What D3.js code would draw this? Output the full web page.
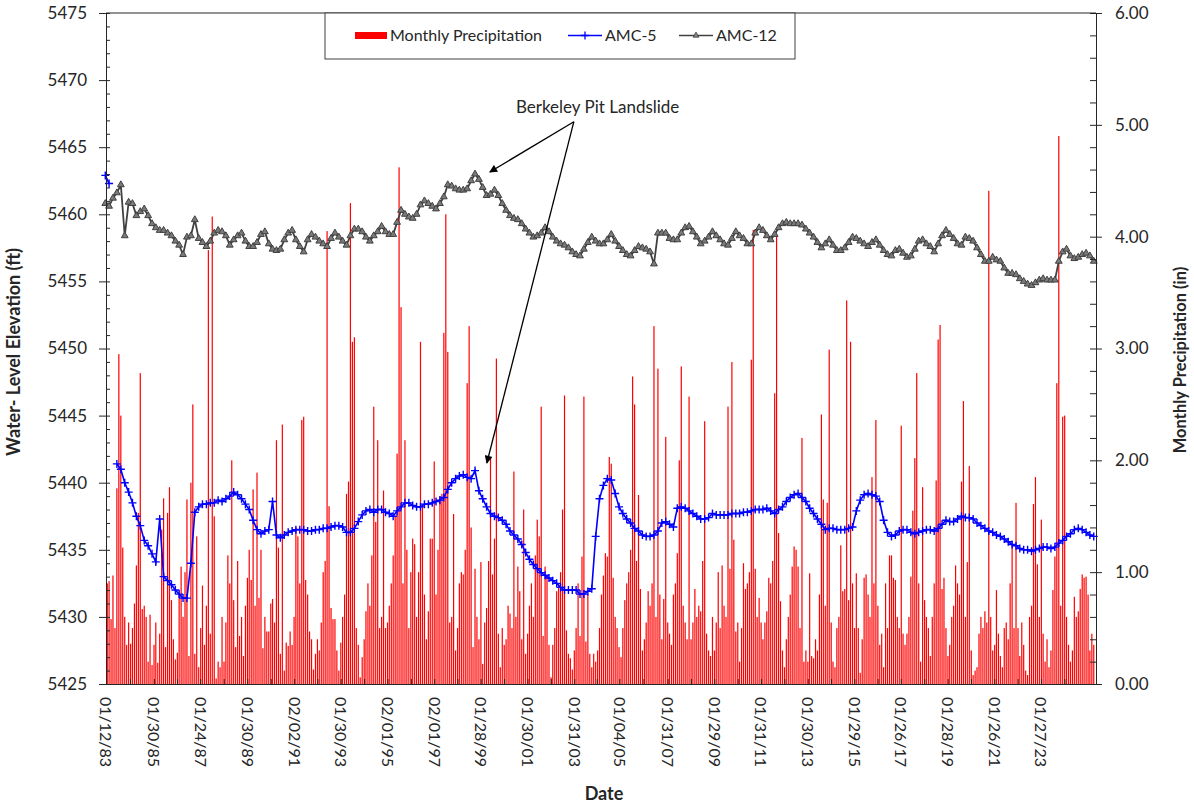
<!DOCTYPE html>
<html>
<head>
<meta charset="utf-8">
<script src="https://cdn.jsdelivr.net/npm/d3@7"></script>
<style>
  body { margin: 0; background: #fff; }
  text { font-family: Lato, "Open Sans", sans-serif; fill: #262626; }
  .axis path, .axis line { stroke: #262626; }
</style>
</head>
<body>
<div class="chart"></div>
<script>
// monthly precipitation (in), Jan 1983 onwards
var precip = [
  0.2, 0.9, 0.92, 0.58, 0.97, 0.5, 1.75, 2.95, 2.4, 1.22, 0.6, 0.35,
  0.55, 0.36, 0.5, 0.72, 1.06, 1.53, 2.78, 0.67, 0.7, 0.6, 0.2, 0.62,
  0.17, 0.35, 0.55, 0.19, 0.45, 1.38, 1.66, 0.33, 1.53, 1.76, 0.75, 0.4,
  0.22, 0.28, 0.8, 1.05, 0.6, 1.0, 1.65, 0.25, 1.8, 2.5, 0.27, 1.32,
  0.15, 0.5, 0.88, 0.35, 0.7, 3.88, 0.45, 4.18, 1.5, 0.05, 0.2, 0.15,
  0.6, 0.2, 0.55, 1.15, 0.9, 2.0, 0.75, 0.33, 1.1, 0.43, 0.6, 0.25,
  0.7, 0.95, 1.2, 0.93, 1.74, 0.7, 1.89, 0.77, 1.2, 0.32, 0.6, 0.47,
  0.47, 0.72, 0.76, 0.55, 2.18, 1.22, 0.27, 2.32, 0.12, 0.37, 0.34, 0.47,
  0.35, 0.6, 1.4, 1.32, 0.9, 2.36, 2.39, 0.93, 0.8, 0.47, 0.4, 0.13,
  0.27, 0.4, 0.3, 0.55, 1.0, 1.1, 4.05, 1.59, 0.68, 0.58, 0.58, 0.3,
  0.12, 0.37, 0.6, 0.8, 1.7, 1.81, 4.3, 3.06, 3.1, 0.5, 0.35, 0.06,
  0.24, 0.4, 0.65, 0.9, 0.7, 1.15, 2.48, 1.45, 2.18, 0.5, 0.6, 1.73,
  0.5, 0.55, 0.7, 0.9, 1.15, 1.5, 2.06, 4.62, 3.37, 0.9, 2.18, 1.2,
  0.5, 1.0, 1.3, 1.25, 0.6, 1.0, 3.06, 1.6, 0.8, 0.4, 0.65, 1.3,
  1.3, 1.99, 0.8, 1.2, 1.68, 1.7, 3.14, 4.2, 2.97, 0.55, 0.6, 1.52,
  0.3, 0.5, 0.9, 1.0, 0.98, 1.2, 2.69, 3.2, 1.4, 0.33, 1.03, 0.6,
  0.4, 1.09, 0.18, 0.55, 0.68, 1.1, 2.03, 0.98, 1.3, 2.91, 0.45, 0.15,
  0.5, 0.35, 0.4, 0.7, 0.63, 0.5, 1.9, 0.6, 1.05, 0.83, 0.4, 1.56,
  0.27, 0.45, 0.7, 0.9, 0.6, 1.15, 1.47, 1.32, 2.48, 0.43, 1.05, 0.97,
  0.35, 0.06, 0.35, 0.5, 0.83, 0.9, 1.0, 1.56, 2.58, 0.48, 0.27, 0.23,
  0.13, 0.3, 0.5, 0.9, 0.43, 1.14, 2.57, 0.38, 0.8, 0.27, 0.15, 0.27,
  0.2, 0.3, 0.5, 0.8, 0.97, 1.17, 1.14, 2.03, 1.97, 0.95, 0.6, 0.5,
  0.33, 0.24, 0.5, 0.75, 0.9, 1.0, 1.2, 2.75, 2.5, 1.1, 1.69, 0.85,
  0.3, 0.4, 0.55, 0.83, 0.7, 0.9, 3.2, 0.6, 2.82, 0.8, 0.4, 0.76,
  2.21, 0.55, 0.45, 0.35, 0.8, 0.9, 1.17, 2.0, 2.84, 0.7, 0.55, 0.4,
  2.57, 0.4, 0.55, 0.85, 0.6, 0.7, 0.65, 1.1, 2.35, 0.45, 0.3, 0.25,
  0.6, 0.3, 0.55, 1.0, 0.5, 1.06, 0.7, 0.6, 2.48, 1.03, 2.88, 1.29,
  0.47, 0.55, 0.2, 0.5, 1.08, 0.85, 0.9, 1.0, 2.9, 4.06, 1.03, 0.6,
  0.77, 0.55, 0.4, 0.55, 0.65, 0.95, 0.9, 1.1, 2.6, 4.02, 1.35, 0.74,
  0.3, 0.15, 0.4, 0.6, 0.8, 1.05, 1.23, 1.2, 1.05, 0.5, 2.2, 0.2,
  0.3, 0.2, 0.99, 0.25, 0.23, 0.4, 0.3, 0.8, 2.41, 1.65, 0.7, 1.62,
  2.99, 0.55, 0.2, 0.15, 0.5, 0.6, 1.24, 0.83, 0.85, 3.43, 0.75, 3.06,
  0.9, 0.5, 0.99, 0.5, 0.1, 0.4, 0.95, 0.98, 0.8, 0.6, 1.85, 0.9,
  2.36, 0.7, 0.35, 0.45, 0.15, 0.9, 0.5, 1.15, 1.15, 0.95, 0.93, 0.6,
  0.5, 2.31, 0.45, 0.35, 0.45, 0.6, 0.96, 1.55, 2.02, 2.78, 0.9, 0.2,
  1.76, 0.75, 0.6, 0.5, 0.25, 0.6, 0.9, 1.82, 3.08, 3.21, 0.85, 0.95,
  0.5, 0.25, 0.35, 0.6, 0.7, 1.06, 0.9, 0.8, 1.81, 2.53, 0.6, 1.09,
  1.95, 0.3, 0.08, 0.12, 0.15, 0.45, 0.6, 0.5, 0.65, 0.55, 4.41, 0.6,
  0.3, 0.35, 0.84, 0.45, 0.25, 0.15, 0.5, 0.55, 0.4, 0.9, 1.25, 0.5,
  1.62, 0.5, 0.25, 0.55, 0.35, 0.12, 0.08, 0.6, 0.7, 1.61, 1.85, 1.07,
  0.6, 1.47, 0.45, 0.2, 0.4, 0.15, 0.3, 0.84, 1.14, 2.69, 4.9, 0.7,
  2.39, 2.4, 0.6, 0.35, 0.2, 0.3, 0.78, 0.6, 0.65, 0.85, 0.98, 0.95,
  0.96, 0.8, 0.3, 0.45, 0.35
];

// water levels (ft), one reading every 2 months from Jan 1983
var amc5 = [
  5462.9, 5462.3, null, 5441.4, 5441.0, 5440.0,
  5439.3, 5438.5, 5437.5, 5436.8, 5435.7, 5435.3,
  5434.7, 5434.1, 5437.3, 5433.0, 5432.7, 5432.4,
  5432.0, 5431.7, 5431.4, 5431.4, 5434.0, 5437.8,
  5438.2, 5438.4, 5438.4, 5438.5, 5438.5, 5438.7,
  5438.6, 5438.8, 5439.0, 5439.3, 5439.1, 5438.8,
  5438.4, 5438.0, 5437.2, 5436.5, 5436.2, 5436.4,
  5436.5, 5438.6, 5436.1, 5435.9, 5436.1, 5436.3,
  5436.4, 5436.5, 5436.5, 5436.5, 5436.4, 5436.4,
  5436.5, 5436.5, 5436.6, 5436.6, 5436.7, 5436.8,
  5436.8, 5436.7, 5436.3, 5436.3, 5436.6, 5437.1,
  5437.6, 5437.9, 5438.0, 5437.8, 5438.0, 5438.0,
  5437.8, 5437.7, 5437.5, 5437.9, 5438.2, 5438.5,
  5438.5, 5438.3, 5438.2, 5438.2, 5438.4, 5438.4,
  5438.5, 5438.6, 5438.7, 5438.9, 5439.5, 5440.0,
  5440.3, 5440.5, 5440.6, 5440.4, 5440.3, 5440.9,
  5439.4, 5438.8, 5438.2, 5437.7, 5437.5, 5437.4,
  5437.2, 5436.9, 5436.4, 5436.1, 5435.8, 5435.4,
  5434.8, 5434.3, 5433.9, 5433.6, 5433.3, 5433.1,
  5432.9, 5432.7, 5432.5, 5432.2, 5432.0, 5432.0,
  5432.0, 5432.0, 5431.7, 5431.7, 5431.9, 5432.1,
  5436.0, 5438.8, 5439.8, 5440.3, 5440.2, 5439.2,
  5438.2, 5437.7, 5437.3, 5437.0, 5436.6, 5436.4,
  5436.1, 5436.0, 5436.0, 5436.1, 5436.4, 5437.0,
  5437.1, 5436.9, 5436.7, 5438.1, 5438.2, 5438.1,
  5437.9, 5437.7, 5437.5, 5437.3, 5437.3, 5437.4,
  5437.7, 5437.6, 5437.6, 5437.6, 5437.6, 5437.7,
  5437.7, 5437.7, 5437.8, 5437.8, 5437.9, 5438.0,
  5438.0, 5438.0, 5438.1, 5437.9, 5437.7, 5438.0,
  5438.2, 5438.6, 5438.9, 5439.1, 5439.2, 5438.9,
  5438.6, 5438.1, 5437.7, 5437.3, 5436.9, 5436.5,
  5436.6, 5436.6, 5436.5, 5436.5, 5436.5, 5436.6,
  5436.7, 5437.9, 5438.7, 5439.1, 5439.2, 5439.1,
  5439.0, 5438.6, 5437.2, 5436.3, 5436.0, 5436.1,
  5436.4, 5436.5, 5436.5, 5436.3, 5436.2, 5436.3,
  5436.4, 5436.5, 5436.5, 5436.4, 5436.6, 5436.9,
  5437.2, 5437.1, 5437.1, 5437.3, 5437.5, 5437.4,
  5437.4, 5437.3, 5437.0, 5436.8, 5436.6, 5436.4,
  5436.3, 5436.1, 5436.0, 5435.8, 5435.6, 5435.4,
  5435.3, 5435.1, 5435.0, 5435.0, 5434.9, 5435.0,
  5435.1, 5435.2, 5435.2, 5435.1, 5435.2, 5435.5,
  5435.7, 5436.0, 5436.2, 5436.5, 5436.6, 5436.5,
  5436.3, 5436.1, 5436.0
];

var amc12 = [
  5460.8, 5460.6, 5461.2, 5461.6, 5462.2, 5458.4,
  5460.9, 5460.8, 5459.9, 5460.2, 5460.4, 5459.9,
  5459.3, 5459.0, 5458.8, 5458.8, 5458.6, 5458.4,
  5458.0, 5457.7, 5457.0, 5458.3, 5458.4, 5459.6,
  5458.2, 5457.9, 5457.6, 5458.0, 5458.6, 5458.8,
  5458.7, 5458.4, 5457.7, 5458.1, 5458.4, 5458.6,
  5458.0, 5457.6, 5457.6, 5457.9, 5458.5, 5458.7,
  5457.8, 5457.4, 5457.3, 5457.4, 5458.1, 5458.6,
  5458.8, 5458.1, 5457.6, 5457.2, 5458.1, 5458.5,
  5458.3, 5458.0, 5457.8, 5457.6, 5458.2, 5458.6,
  5458.3, 5458.0, 5457.7, 5458.4, 5458.9, 5458.9,
  5458.7, 5458.3, 5458.0, 5458.4, 5458.7, 5459.1,
  5458.7, 5458.5, 5458.5, 5459.4, 5460.3, 5460.0,
  5459.8, 5459.7, 5460.0, 5460.7, 5461.0, 5460.8,
  5460.6, 5460.4, 5460.8, 5461.3, 5462.2, 5462.1,
  5461.9, 5461.8, 5461.8, 5461.9, 5462.5, 5463.0,
  5462.6, 5462.0, 5461.4, 5461.5, 5461.8, 5461.4,
  5460.8, 5460.3, 5459.9, 5459.7, 5459.6, 5459.3,
  5458.9, 5458.6, 5458.3, 5458.4, 5458.6, 5459.0,
  5458.7, 5458.3, 5458.0, 5457.8, 5457.7, 5457.5,
  5457.2, 5457.0, 5456.9, 5457.4, 5457.9, 5458.3,
  5458.0, 5457.8, 5457.8, 5458.1, 5458.5, 5458.0,
  5457.6, 5457.3, 5457.0, 5456.9, 5457.3, 5457.6,
  5457.5, 5457.4, 5457.2, 5456.3, 5458.6, 5458.6,
  5458.6, 5458.2, 5458.1, 5458.1, 5458.6, 5459.0,
  5459.1, 5458.7, 5458.3, 5457.8, 5458.0, 5458.3,
  5458.7, 5458.4, 5458.1, 5457.8, 5457.7, 5458.2,
  5458.7, 5458.4, 5458.2, 5457.8, 5457.8, 5458.6,
  5459.0, 5458.8, 5458.4, 5458.1, 5458.5, 5459.0,
  5459.3, 5459.4, 5459.3, 5459.3, 5459.3, 5459.2,
  5458.9, 5458.6, 5458.3, 5457.9, 5457.5, 5457.8,
  5458.1, 5457.7, 5457.3, 5457.3, 5457.5, 5457.9,
  5458.3, 5458.2, 5458.0, 5457.8, 5457.6, 5457.9,
  5458.1, 5457.7, 5457.3, 5457.0, 5456.9, 5457.3,
  5457.4, 5457.1, 5456.8, 5456.9, 5457.4, 5458.0,
  5458.1, 5457.8, 5457.6, 5457.2, 5457.8, 5458.4,
  5458.8, 5458.5, 5458.2, 5457.8, 5457.7, 5458.3,
  5458.2, 5458.0, 5457.5, 5457.0, 5456.5, 5456.5,
  5456.8, 5456.6, 5456.5, 5456.0, 5455.6, 5455.6,
  5455.5, 5455.2, 5455.0, 5454.8, 5454.7, 5454.9,
  5455.1, 5455.2, 5455.1, 5455.1, 5455.1, 5456.5,
  5457.2, 5457.4, 5456.9, 5456.7, 5456.8, 5457.0,
  5457.1, 5456.9, 5456.5
];

var dateLabels = ["1983-01-12", "1985-01-30", "1987-01-24", "1989-01-30", "1991-02-02",
  "1993-01-30", "1995-02-01", "1997-02-01", "1999-01-28", "2001-01-30", "2003-01-31",
  "2005-01-04", "2007-01-31", "2009-01-29", "2011-01-31", "2013-01-30", "2015-01-29",
  "2017-01-26", "2019-01-28", "2021-01-26", "2023-01-27"];
var elevTicks = [5425, 5430, 5435, 5440, 5445, 5450, 5455, 5460, 5465, 5470, 5475];
var precipTicks = [0, 1, 2, 3, 4, 5, 6];

var svgWidth = 1194;
var svgHeight = 807;
var margin = { top: 13, right: 98, bottom: 123, left: 106 };
var width = svgWidth - margin.left - margin.right;
var height = svgHeight - margin.top - margin.bottom;

var parseDate = d3.timeParse("%Y-%m-%d");
var start = new Date(1983, 0, 1);

var svg = d3.select(".chart")
  .append("svg")
  .attr("width", svgWidth)
  .attr("height", svgHeight);

var chartGroup = svg.append("g")
  .attr("transform", `translate(${margin.left}, ${margin.top})`);

var xScale = d3.scaleTime()
  .domain([parseDate("1983-01-12"), parseDate("2025-06-05")])
  .range([0, width]);
var yLeft = d3.scaleLinear().domain([5425, 5475]).range([height, 0]);
var yRight = d3.scaleLinear().domain([0, 6]).range([height, 0]);

svg.append("defs").append("clipPath").attr("id", "plotClip")
  .append("rect").attr("width", width).attr("height", height);

// precipitation bars
var precipData = precip.map((v, i) => ({ date: d3.timeMonth.offset(start, i), value: v }));
chartGroup.append("g")
  .attr("clip-path", "url(#plotClip)")
  .selectAll("rect")
  .data(precipData)
  .enter()
  .append("rect")
  .attr("x", d => xScale(d.date) - 0.6)
  .attr("width", 1.2)
  .attr("y", d => yRight(d.value))
  .attr("height", d => height - yRight(d.value))
  .attr("fill", "#ff0000");

// water level lines
var toLevels = arr => arr.map((v, i) => ({ date: d3.timeMonth.offset(start, i * 2), value: v }));
var amc12Data = toLevels(amc12);
var amc5Data = toLevels(amc5);

var line = d3.line()
  .defined(d => d.value !== null)
  .x(d => xScale(d.date))
  .y(d => yLeft(d.value));

var triangle = d3.symbol().type(d3.symbolTriangle).size(20);
var plus = "M-4,0H4M0,-4V4";

chartGroup.append("path")
  .datum(amc12Data)
  .attr("d", line)
  .attr("fill", "none")
  .attr("stroke", "#404040")
  .attr("stroke-width", 1.8);

chartGroup.selectAll(".tri")
  .data(amc12Data)
  .enter()
  .append("path")
  .attr("class", "tri")
  .attr("d", triangle)
  .attr("transform", d => `translate(${xScale(d.date)}, ${yLeft(d.value)})`)
  .attr("fill", "#7a7a7a")
  .attr("stroke", "#404040")
  .attr("stroke-width", 1);

chartGroup.append("path")
  .datum(amc5Data)
  .attr("d", line)
  .attr("fill", "none")
  .attr("stroke", "#0000ff")
  .attr("stroke-width", 1.6);

chartGroup.selectAll(".plus")
  .data(amc5Data.filter(d => d.value !== null))
  .enter()
  .append("path")
  .attr("class", "plus")
  .attr("d", plus)
  .attr("transform", d => `translate(${xScale(d.date)}, ${yLeft(d.value)})`)
  .attr("stroke", "#0000ff")
  .attr("stroke-width", 1.4);

// axes
var labelDates = dateLabels.map(parseDate);
var minorDates = labelDates.map((d, i) => {
  var next = labelDates[i + 1] || d3.timeYear.offset(d, 2);
  return new Date((+d + +next) / 2);
});

chartGroup.append("line")
  .attr("x1", 0).attr("x2", width)
  .attr("y1", 0).attr("y2", 0)
  .attr("stroke", "#262626");

var leftAxis = d3.axisLeft(yLeft).tickValues(elevTicks).tickFormat(d3.format("d"))
  .tickSize(7).tickPadding(12);
chartGroup.append("g").attr("class", "axis").call(leftAxis)
  .call(g => g.selectAll("text").attr("font-size", 17).style("font-family", "Lato"));
chartGroup.append("g").attr("class", "axis")
  .call(d3.axisRight(yLeft).tickValues(d3.range(5425, 5476, 1)).tickSize(4).tickFormat(""))
  .call(g => g.select(".domain").remove());

var rightAxis = d3.axisRight(yRight).tickValues(precipTicks).tickFormat(d3.format(".2f"))
  .tickSize(6).tickPadding(13);
chartGroup.append("g").attr("class", "axis")
  .attr("transform", `translate(${width}, 0)`)
  .call(rightAxis)
  .call(g => g.selectAll("text").attr("font-size", 17).style("font-family", "Lato"));
chartGroup.append("g").attr("class", "axis")
  .attr("transform", `translate(${width}, 0)`)
  .call(d3.axisLeft(yRight).tickValues(d3.range(0, 6.01, 0.2)).tickSize(6).tickFormat(""))
  .call(g => g.select(".domain").remove());

chartGroup.append("g").attr("class", "axis")
  .attr("transform", `translate(0, ${height})`)
  .call(d3.axisTop(xScale).tickValues(labelDates.concat(minorDates)).tickSize(5).tickFormat(""));

chartGroup.selectAll(".xlabel")
  .data(labelDates)
  .enter()
  .append("text")
  .attr("class", "xlabel")
  .attr("transform", d => `translate(${xScale(d)}, ${height + 13}) rotate(90)`)
  .attr("dy", "0.35em")
  .attr("font-size", 16)
  .text(d3.timeFormat("%m/%d/%y"));

// axis titles
chartGroup.append("text")
  .attr("transform", "rotate(-90)")
  .attr("x", -339)
  .attr("y", -86)
  .attr("text-anchor", "middle")
  .attr("font-size", 18)
  .attr("font-weight", "bold")
  .text("Water- Level Elevation (ft)");

chartGroup.append("text")
  .attr("transform", "rotate(-90)")
  .attr("x", -347)
  .attr("y", width + 90)
  .attr("text-anchor", "middle")
  .attr("font-size", 16.5)
  .attr("font-weight", "bold")
  .text("Monthly Precipitation (in)");

chartGroup.append("text")
  .attr("x", width / 2 + 3)
  .attr("y", height + 116)
  .attr("text-anchor", "middle")
  .attr("font-size", 18)
  .attr("font-weight", "bold")
  .text("Date");

// annotation
svg.append("defs").append("marker")
  .attr("id", "arrow")
  .attr("viewBox", "0 0 10 10")
  .attr("refX", 9).attr("refY", 5)
  .attr("markerWidth", 10).attr("markerHeight", 8)
  .attr("markerUnits", "userSpaceOnUse")
  .attr("orient", "auto")
  .append("path").attr("d", "M0,0L10,5L0,10Z").attr("fill", "#000");

var noteFrom = [xScale(parseDate("2003-01-25")), yLeft(5466.9)];
chartGroup.append("text")
  .attr("x", xScale(parseDate("2004-02-01")))
  .attr("y", yLeft(5467.55))
  .attr("text-anchor", "middle")
  .attr("font-size", 17)
  .text("Berkeley Pit Landslide");

[[parseDate("1999-06-20"), 5463.15], [parseDate("1999-05-05"), 5441.47]].forEach(function (tip) {
  chartGroup.append("line")
    .attr("x1", noteFrom[0]).attr("y1", noteFrom[1])
    .attr("x2", xScale(tip[0])).attr("y2", yLeft(tip[1]))
    .attr("stroke", "#000")
    .attr("stroke-width", 1.3)
    .attr("marker-end", "url(#arrow)");
});

// legend
var legend = svg.append("g").attr("transform", "translate(325, 13)");
legend.append("rect")
  .attr("width", 470).attr("height", 46)
  .attr("fill", "#fff").attr("stroke", "#404040");
legend.append("rect")
  .attr("x", 30).attr("y", 19).attr("width", 32).attr("height", 7)
  .attr("fill", "#ff0000");
legend.append("text").attr("x", 65).attr("y", 28).attr("font-size", 16)
  .text("Monthly Precipitation");
legend.append("line").attr("x1", 243).attr("x2", 277).attr("y1", 22.5).attr("y2", 22.5)
  .attr("stroke", "#0000ff").attr("stroke-width", 1.5);
legend.append("path").attr("d", plus).attr("transform", "translate(260, 22.5)")
  .attr("stroke", "#0000ff").attr("stroke-width", 1.3);
legend.append("text").attr("x", 280).attr("y", 28).attr("font-size", 16).text("AMC-5");
legend.append("line").attr("x1", 354).attr("x2", 388).attr("y1", 22.5).attr("y2", 22.5)
  .attr("stroke", "#404040").attr("stroke-width", 1.5);
legend.append("path").attr("d", d3.symbol().type(d3.symbolTriangle).size(14))
  .attr("transform", "translate(371, 22.5)")
  .attr("fill", "#8c8c8c").attr("stroke", "#404040").attr("stroke-width", 0.9);
legend.append("text").attr("x", 391).attr("y", 28).attr("font-size", 16).text("AMC-12");
</script>
</body>
</html>
